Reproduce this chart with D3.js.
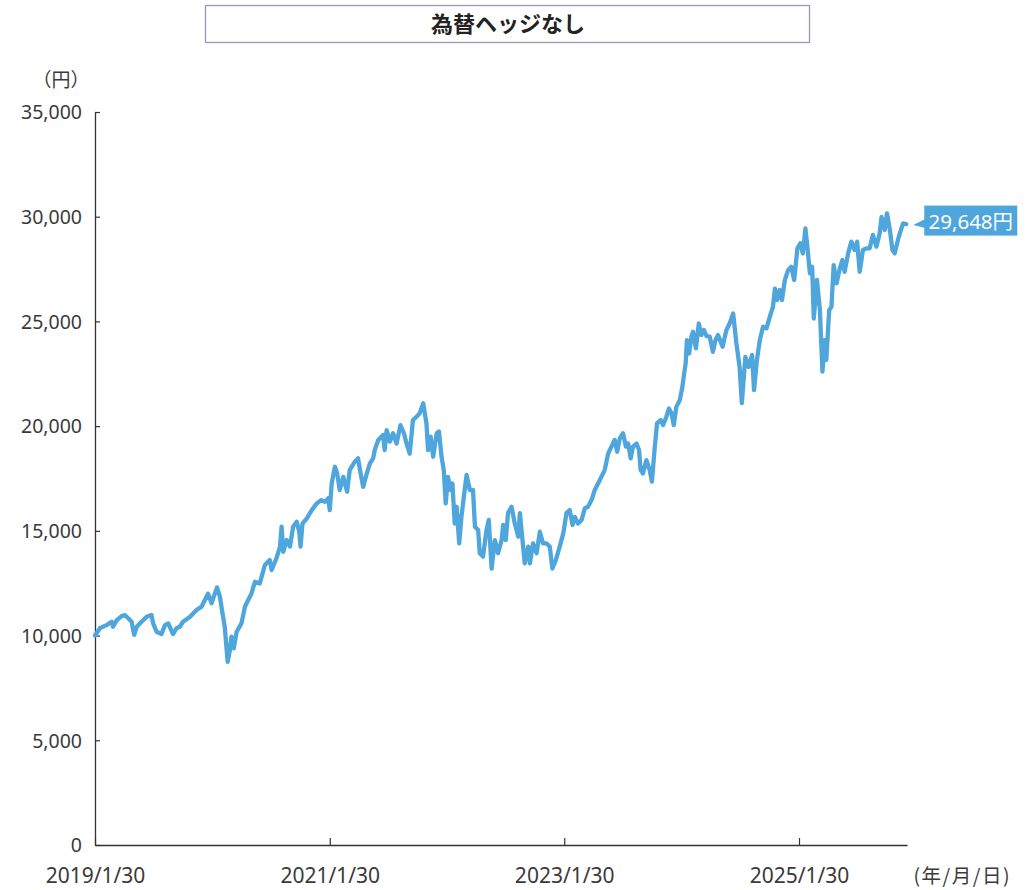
<!DOCTYPE html>
<html><head><meta charset="utf-8">
<script src="https://cdn.jsdelivr.net/npm/d3@7"></script>
<style>
html,body{margin:0;padding:0;background:#fff;}
svg{display:block;}
</style></head>
<body>
<svg id="chart" width="1034" height="890"></svg>
<script>
const title = "為替ヘッジなし";
const yUnit = "（円）";
const xUnit = "(年/月/日)";
const endLabel = "29,648円";
const yTicks = [0, 5000, 10000, 15000, 20000, 25000, 30000, 35000];
const xTicks = ["2019-01-30", "2021-01-30", "2023-01-30", "2025-01-30"];

const dates = [
"2019-01-30","2019-02-15","2019-03-07","2019-03-23","2019-03-27","2019-04-08","2019-04-23","2019-05-03","2019-05-13","2019-05-24",
"2019-06-01","2019-06-09","2019-06-24","2019-07-10","2019-07-25","2019-07-30","2019-08-10","2019-08-25","2019-09-05","2019-09-15",
"2019-09-30","2019-10-11","2019-10-21","2019-10-31","2019-11-22","2019-12-12","2019-12-28","2020-01-07","2020-01-17","2020-01-28",
"2020-02-07","2020-02-14","2020-02-23","2020-03-02","2020-03-09","2020-03-15","2020-03-18","2020-03-25","2020-03-30","2020-04-06",
"2020-04-15","2020-04-30","2020-05-11","2020-05-21","2020-05-31","2020-06-11","2020-06-26","2020-07-12","2020-07-27","2020-08-02",
"2020-08-17","2020-08-28","2020-09-02","2020-09-07","2020-09-18","2020-09-28","2020-10-08","2020-10-19","2020-10-27","2020-10-31",
"2020-11-06","2020-11-19","2020-12-05","2020-12-20","2021-01-04","2021-01-15","2021-01-25","2021-01-30","2021-02-05","2021-02-15",
"2021-02-22","2021-03-02","2021-03-13","2021-03-25","2021-04-02","2021-04-18","2021-04-28","2021-05-06","2021-05-14","2021-05-24",
"2021-06-04","2021-06-14","2021-06-19","2021-06-30","2021-07-15","2021-07-20","2021-07-26","2021-08-05","2021-08-15","2021-08-26",
"2021-09-07","2021-09-18","2021-09-26","2021-10-06","2021-10-16","2021-10-27","2021-11-06","2021-11-17","2021-11-27","2021-12-02",
"2021-12-10","2021-12-18","2021-12-29","2022-01-05","2022-01-13","2022-01-20","2022-01-26","2022-02-02","2022-02-10","2022-02-16",
"2022-02-23","2022-03-01","2022-03-09","2022-03-16","2022-03-26","2022-04-01","2022-04-11","2022-04-21","2022-04-27","2022-05-07",
"2022-05-12","2022-05-22","2022-06-02","2022-06-09","2022-06-18","2022-06-28","2022-07-08","2022-07-19","2022-07-24","2022-08-01",
"2022-08-08","2022-08-19","2022-08-29","2022-09-09","2022-09-14","2022-09-22","2022-09-29","2022-10-10","2022-10-15","2022-10-25",
"2022-11-05","2022-11-15","2022-11-25","2022-12-06","2022-12-16","2022-12-24","2023-01-04","2023-01-16","2023-01-27","2023-02-06",
"2023-02-16","2023-02-25","2023-03-04","2023-03-14","2023-03-25","2023-04-04","2023-04-14","2023-04-25","2023-05-05","2023-05-21",
"2023-06-05","2023-06-16","2023-06-26","2023-07-06","2023-07-14","2023-07-22","2023-08-01","2023-08-10","2023-08-17","2023-08-25",
"2023-09-01","2023-09-12","2023-09-20","2023-09-25","2023-10-02","2023-10-13","2023-10-23","2023-10-30","2023-11-08","2023-11-15",
"2023-11-26","2023-12-04","2023-12-14","2023-12-22","2023-12-30","2024-01-06","2024-01-14","2024-01-25","2024-02-02","2024-02-06",
"2024-02-12","2024-02-16","2024-02-23","2024-03-01","2024-03-06","2024-03-15","2024-03-24","2024-04-01","2024-04-09","2024-04-17",
"2024-04-27","2024-05-07","2024-05-15","2024-05-23","2024-06-06","2024-06-18","2024-06-28","2024-07-09","2024-07-19","2024-07-29",
"2024-08-05","2024-08-16","2024-08-26","2024-09-06","2024-09-12","2024-09-21","2024-09-30","2024-10-10","2024-10-21","2024-10-31",
"2024-11-10","2024-11-16","2024-11-23","2024-12-01","2024-12-08","2024-12-17","2024-12-27","2025-01-06","2025-01-15","2025-01-25",
"2025-02-03","2025-02-11","2025-02-19","2025-02-24","2025-03-05","2025-03-12","2025-03-17","2025-03-27","2025-04-05","2025-04-13",
"2025-04-20","2025-04-25","2025-05-04","2025-05-11","2025-05-18","2025-05-27","2025-06-06","2025-06-14","2025-06-21","2025-07-02",
"2025-07-12","2025-07-22","2025-07-30","2025-08-07","2025-08-17","2025-08-28","2025-09-07","2025-09-17","2025-09-28","2025-10-08",
"2025-10-14","2025-10-24","2025-10-31","2025-11-09","2025-11-17","2025-11-24","2025-12-04","2025-12-10","2025-12-20","2025-12-30"
];

const values = [
10000,10360,10500,10660,10420,10740,10930,10980,10840,10660,
10030,10420,10660,10900,10980,10580,10180,10070,10500,10580,
10070,10350,10420,10660,10900,11220,11380,11700,12000,11540,
12000,12300,11850,11060,10420,9310,8750,9310,9950,9390,
10180,10580,11380,11700,12000,12570,12490,13370,13610,13130,
13690,14250,15200,14000,14560,14250,15200,15430,14960,14250,
15350,15590,15990,16310,16470,16390,16550,15990,17260,18060,
17740,16950,17580,16870,17900,18300,18460,17740,17100,17670,
18220,18460,18860,19340,19580,18860,19810,19260,19660,19170,
20050,19660,19170,18690,20290,20450,20610,21090,20130,18860,
19500,18540,19660,19740,18540,17900,16310,17580,16950,17260,
15350,16150,14400,15670,16950,17670,16950,16950,15200,15040,
13930,13770,15040,15520,13200,14560,13930,14560,15280,14560,
15850,16150,15350,14720,15850,14560,13450,14250,13450,14400,
13930,14960,14400,14400,14250,13200,13610,14250,14880,15850,
15990,15280,15670,15350,15520,16070,16150,16470,16950,17430,
17900,18700,19020,19340,18780,19420,19660,19020,19170,18460,
19020,19170,18860,17900,17740,18380,17900,17350,19020,20130,
20290,20050,20450,20840,20610,20050,20920,21250,21880,22360,
22990,24110,23470,24270,24510,23710,24900,24350,24590,24300,
24270,23550,24110,24350,23790,24590,24900,25380,23970,22830,
21100,23310,22830,23400,21720,23160,24110,24750,24670,25220,
25700,26570,26020,26500,26020,26980,27450,27610,26980,28490,
28730,28250,29440,28730,27300,27610,25140,26980,25540,22600,
24110,23160,25540,25700,27690,26820,27530,27930,27370,28250,
28810,28410,28810,27370,28410,28490,28490,29130,28570,29200,
29990,29370,30160,29370,28410,28250,28890,29200,29680,29648
];

const parse = d3.timeParse("%Y-%m-%d");
const data = dates.map((d, i) => ({date: parse(d), value: values[i]}));

const svg = d3.select("#chart");
const fontNum = "'Noto Sans', 'Noto Sans CJK JP', sans-serif";
const fontJP = "'Noto Sans CJK JP', 'Noto Sans', sans-serif";
const textColor = "#3a3a3a";
const lineColor = "#4ea6dc";

// scales
const x = d3.scaleTime()
  .domain([parse(xTicks[0]), parse(xTicks[3])])
  .range([95, 799]);
x.domain([parse(xTicks[0]), x.invert(907)]).range([95, 907]);
const y = d3.scaleLinear().domain([0, 35000]).range([845, 112]);

// title box
svg.append("rect").attr("x", 205.5).attr("y", 5.5).attr("width", 604).attr("height", 37)
  .attr("fill", "#fff").attr("stroke", "#9a98b6").attr("stroke-width", 1.3);
svg.append("text").attr("x", 508).attr("y", 32).attr("text-anchor", "middle")
  .attr("font-family", fontJP).attr("font-weight", "bold").attr("font-size", 22)
  .attr("fill", "#222").text(title);

// y unit
svg.append("text").attr("x", 61).attr("y", 87).attr("text-anchor", "middle")
  .attr("font-family", fontJP).attr("font-size", 19).attr("fill", textColor).text(yUnit);

// y axis
const yAxis = d3.axisLeft(y).tickValues(yTicks).tickFormat(d3.format(","))
  .tickSize(-5).tickSizeOuter(0).tickPadding(13);
const gy = svg.append("g").attr("transform", "translate(95,0)").call(yAxis);
gy.select(".domain").attr("stroke", "#333").attr("stroke-width", 1.3);
gy.selectAll(".tick line").attr("stroke", "#333").attr("stroke-width", 1.2);
gy.selectAll(".tick text").attr("font-family", fontNum).attr("font-size", 19.5)
  .attr("fill", textColor).attr("dy", "0.35em");

// x axis
const xAxis = d3.axisBottom(x).tickValues(xTicks.map(parse))
  .tickFormat(d3.timeFormat("%Y/%-m/%-d")).tickSize(-7).tickSizeOuter(0).tickPadding(23);
const gx = svg.append("g").attr("transform", "translate(0,845)").call(xAxis);
gx.select(".domain").attr("stroke", "#333").attr("stroke-width", 1.5);
gx.selectAll(".tick line").attr("stroke", "#333").attr("stroke-width", 1.2);
gx.selectAll(".tick text").attr("font-family", fontNum).attr("font-size", 21)
  .attr("fill", textColor);

// x unit
svg.append("text").attr("x", 1011).attr("y", 883).attr("text-anchor", "end")
  .attr("font-family", fontJP).attr("font-size", 19.5).attr("letter-spacing", 1.5)
  .attr("fill", textColor).text(xUnit);

// line
const line = d3.line().x(d => x(d.date)).y(d => y(d.value)).curve(d3.curveLinear);
svg.append("path").datum(data).attr("d", line).attr("fill", "none")
  .attr("stroke", lineColor).attr("stroke-width", 4.3).attr("stroke-linejoin", "round")
  .attr("stroke-linecap", "round");

// end label
const last = data[data.length - 1];
const lx = x(last.date), ly = y(last.value);
svg.append("path")
  .attr("d", `M${lx + 7},${ly + 1} L${lx + 19},${ly - 5} L${lx + 19},${ly + 4} Z`)
  .attr("fill", lineColor);
svg.append("rect").attr("x", lx + 18).attr("y", ly - 18.5).attr("width", 93).attr("height", 30)
  .attr("fill", lineColor);
svg.append("text").attr("x", lx + 64.5).attr("y", ly + 4.5).attr("text-anchor", "middle")
  .attr("font-family", fontNum).attr("font-size", 20.5).attr("fill", "#fff").text(endLabel);
</script>
</body></html>
